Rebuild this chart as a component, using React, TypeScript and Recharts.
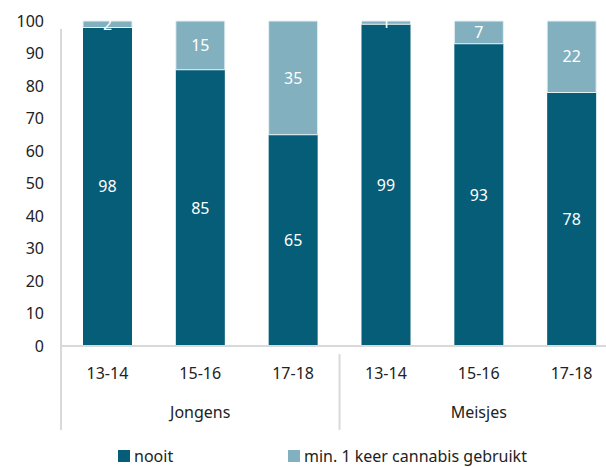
import { BarChart, Bar, XAxis, YAxis, LabelList } from 'recharts'

const ages = ['13-14', '15-16', '17-18', '13-14', '15-16', '17-18']
const groups = ['Jongens', 'Jongens', 'Jongens', 'Meisjes', 'Meisjes', 'Meisjes']
const nooit = [98, 85, 65, 99, 93, 78]
const gebruikt = [2, 15, 35, 1, 7, 22]
const yTicks = [0, 10, 20, 30, 40, 50, 60, 70, 80, 90, 100]

const DARK = '#055d78'
const LIGHT = '#83b0bf'
const AXIS = '#d9d9d9'
const FONT = '"Noto Sans", sans-serif'

const data = ages.map((age, i) => ({
  key: `${groups[i]}-${age}`,
  age,
  group: groups[i],
  nooit: nooit[i],
  gebruikt: gebruikt[i],
}))

// two-level category axis: age label, group label, and group separators
const GroupTick = ({ x, y, index }: any) => {
  const band = 92.8
  const d = data[index]
  const first = index === 0 || d.group !== data[index - 1].group
  const middle = index % 3 === 1
  return (
    <g>
      <text x={x} y={y + 25} textAnchor="middle" fill="#222" fontSize={16} fontFamily={FONT}>
        {d.age}
      </text>
      {middle && (
        <text x={x} y={y + 64} textAnchor="middle" fill="#222" fontSize={16} fontFamily={FONT}>
          {d.group}
        </text>
      )}
      {first && index > 0 && (
        <line x1={x - band / 2} x2={x - band / 2} y1={y} y2={y + 76} stroke={AXIS} strokeWidth={2} />
      )}
      {index === 0 && (
        <line x1={x - band / 2} x2={x - band / 2} y1={y - 325} y2={y + 76} stroke={AXIS} strokeWidth={2} />
      )}
    </g>
  )
}

const legendItems = [
  { label: 'nooit', color: DARK, left: 118 },
  { label: 'min. 1 keer cannabis gebruikt', color: LIGHT, left: 288 },
]

export default function App() {
  return (
    <div style={{ position: 'absolute', left: 0, top: 0, width: 606, height: 467, overflow: 'hidden', background: '#fff' }}>
      <BarChart
        width={640}
        height={467}
        data={data}
        margin={{ top: 21, right: 22, bottom: 41, left: 0 }}
        barSize={49}
      >
        <XAxis
          dataKey="key"
          interval={0}
          height={80}
          tickLine={false}
          axisLine={{ stroke: AXIS, strokeWidth: 2 }}
          tick={<GroupTick />}
        />
        <YAxis
          width={61}
          domain={[0, 100]}
          ticks={yTicks}
          interval={0}
          axisLine={false}
          tickLine={false}
          tickSize={0}
          tickMargin={17}
          tick={{ fontSize: 16, fill: '#222', fontFamily: FONT }}
        />
        <Bar dataKey="nooit" stackId="a" fill={DARK} isAnimationActive={false}>
          <LabelList dataKey="nooit" position="center" fill="#fff" fontSize={16} fontFamily={FONT} />
        </Bar>
        <Bar dataKey="gebruikt" stackId="a" fill={LIGHT} stroke="#e6f0f3" strokeWidth={1} isAnimationActive={false}>
          <LabelList dataKey="gebruikt" position="center" fill="#fff" fontSize={16} fontFamily={FONT} />
        </Bar>
      </BarChart>
      {legendItems.map((it) => (
        <div
          key={it.label}
          style={{
            position: 'absolute', left: it.left, top: 446, display: 'flex', alignItems: 'center',
            whiteSpace: 'nowrap', fontFamily: FONT, fontSize: 16, color: '#222', lineHeight: '20px',
          }}
        >
          <span style={{ display: 'inline-block', width: 12, height: 12, background: it.color, marginRight: 4 }} />
          <span>{it.label}</span>
        </div>
      ))}
    </div>
  )
}
